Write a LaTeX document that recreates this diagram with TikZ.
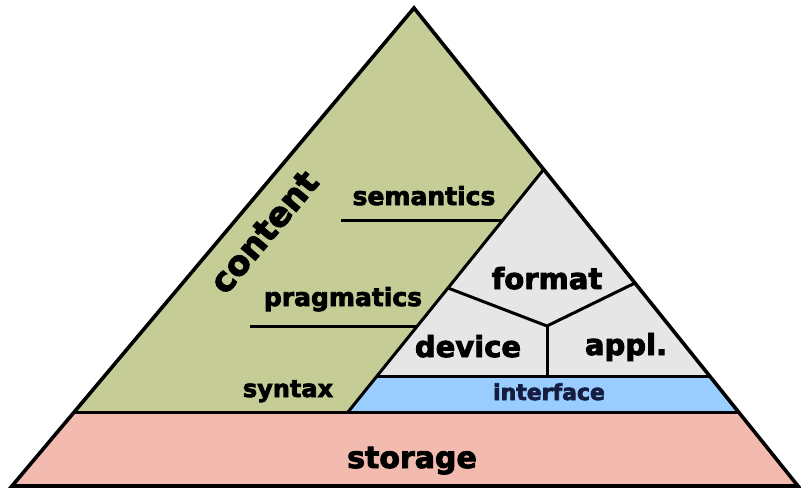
\documentclass[tikz,border=0pt]{standalone}
\usepackage{fontspec}
\setmainfont{DejaVu Sans}[BoldFeatures={FakeBold=3}]
\usetikzlibrary{positioning}

\definecolor{contentgreen}{RGB}{197,204,150}
\definecolor{formatgray}{RGB}{230,230,230}
\definecolor{ifaceblue}{RGB}{153,204,255}
\definecolor{storagepink}{RGB}{243,186,176}
\definecolor{ifacetext}{RGB}{20,28,64}

\begin{document}
\begin{tikzpicture}[
    x=1pt, y=-1pt,
    edge/.style={draw=black, line width=3.6pt, line join=miter},
    inner/.style={draw=black, line width=3pt},
    txt/.style={font=\bfseries\fontsize{25}{30}\selectfont, inner sep=0pt, anchor=base},
    txt-big/.style={font=\bfseries\fontsize{29}{35}\selectfont, inner sep=0pt, anchor=base}
]
    \useasboundingbox (0,0) rectangle (801,488);

    % Corners
    \coordinate (top) at (414,8);
    \coordinate (bl) at (12,486);
    \coordinate (br) at (798,486);
    \coordinate (sl) at (74,412);
    \coordinate (sr) at (738.5,412);
    \coordinate (d0) at (348,412);
    \coordinate (d1) at (544,169);
    \coordinate (il) at (377,376);
    \coordinate (ir) at (710,376);
    \coordinate (yl) at (448,288);
    \coordinate (yc) at (547,326);
    \coordinate (yr) at (635,283);
    \coordinate (yb) at (547,376);
    \coordinate (sem-a) at (341,220);
    \coordinate (sem-b) at (503,220);
    \coordinate (prag-a) at (250,326);
    \coordinate (prag-b) at (417.5,326);

    % Fills
    \fill[contentgreen] (top) -- (sl) -- (d0) -- (d1) -- cycle;
    \fill[formatgray] (d1) -- (ir) -- (il) -- cycle;
    \fill[ifaceblue] (il) -- (ir) -- (sr) -- (d0) -- cycle;
    \fill[storagepink] (sl) -- (sr) -- (br) -- (bl) -- cycle;

    % Dividers
    \draw[inner] (sl) -- (sr);
    \draw[inner] (il) -- (ir);
    \draw[inner] (d0) -- (d1);
    \draw[inner] (yl) -- (yc) -- (yr);
    \draw[inner] (yc) -- (yb);
    \draw[inner] (sem-a) -- (sem-b);
    \draw[inner] (prag-a) -- (prag-b);

    % Outline
    \draw[edge] (top) -- (bl) -- (br) -- cycle;

    % Labels
    \node[txt] (semantics) at (424,205) {semantics};
    \node[txt] (pragmatics) at (343,306) {pragmatics};
    \node[txt, font=\bfseries\fontsize{24}{29}\selectfont] (syntax) at (288,397) {syntax};
    \node[txt-big] (format) at (547,289) {format};
    \node[txt-big] (device) at (468,357) {device};
    \node[txt-big] (appl) at (626,355) {appl.};
    \node[txt, font=\bfseries\fontsize{22}{26}\selectfont, text=ifacetext] (interface) at (549,400) {interface};
    \node[txt-big, font=\bfseries\fontsize{30}{36}\selectfont] (storage) at (412,468) {storage};
    \node[font=\bfseries\fontsize{34}{40}\selectfont, inner sep=0pt, rotate=50] (content) at (264,232) {content};

\end{tikzpicture}
\end{document}
